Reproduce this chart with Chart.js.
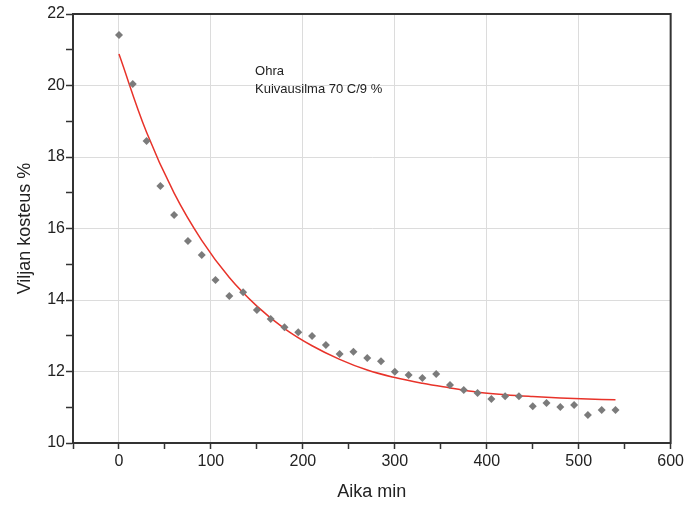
<!DOCTYPE html>
<html>
<head>
<meta charset="utf-8">
<script src="https://cdn.jsdelivr.net/npm/chart.js@4"></script>
<style>
  html, body { margin: 0; padding: 0; background: #fff; }
  #wrap { width: 687px; height: 506px; }
</style>
</head>
<body>
<div id="wrap"><canvas id="myChart"></canvas></div>
<script>
// measured points (time in min, moisture %)
var aika = [0,15,30,45,60,75,90,105,120,135,150,165,180,195,210,225,240,255,270,285,300,315,330,345,360,375,390,405,420,435,450,465,480,495,510,525,540];
var kosteus = [21.41,20.04,18.45,17.19,16.38,15.65,15.26,14.56,14.11,14.22,13.72,13.47,13.24,13.10,12.99,12.74,12.49,12.55,12.38,12.29,11.99,11.90,11.82,11.93,11.62,11.48,11.40,11.23,11.31,11.31,11.03,11.12,11.01,11.06,10.78,10.92,10.92];

// fitted curve
var sovitusAika = [0,30,60,90,120,150,180,210,240,270,300,330,360,390,420,450,480,510,540];
var sovitus = [20.88,18.69,16.99,15.67,14.63,13.83,13.20,12.72,12.34,12.04,11.83,11.67,11.54,11.42,11.35,11.30,11.26,11.23,11.21];

var xTicks = [-50,0,50,100,150,200,250,300,350,400,450,500,550,600];
var yTicks = [10,11,12,13,14,15,16,17,18,19,20,21,22];
var note = ["Ohra", "Kuivausilma 70 C/9 %"];

var pisteet = aika.map(function (t, i) { return { x: t, y: kosteus[i] }; });
var kayra = sovitusAika.map(function (t, i) { return { x: t, y: sovitus[i] }; });

var fontti = '"Liberation Sans", Arial, sans-serif';

// frame round the plot + the text box
var frame = {
  id: 'frame',
  afterDraw: function (chart) {
    var a = chart.chartArea, c = chart.ctx;
    c.save();
    c.strokeStyle = '#333';
    c.lineWidth = 2;
    c.strokeRect(a.left, a.top, a.right - a.left, a.bottom - a.top);
    var x = chart.scales.x.getPixelForValue(148);
    var y = chart.scales.y.getPixelForValue(20.38);
    c.fillStyle = '#222';
    c.font = '13px ' + fontti;
    c.textBaseline = 'middle';
    c.fillText(note[0], x, y);
    c.fillText(note[1], x, y + 18);
    c.restore();
  }
};

var ctx = document.getElementById("myChart");
var myChart = new Chart(ctx, {
  type: 'scatter',
  data: {
    datasets: [
      {
        data: pisteet,
        pointStyle: 'rectRot',
        pointRadius: 4,
        backgroundColor: '#7b7b7b',
        borderColor: '#7b7b7b',
        borderWidth: 0
      },
      {
        data: kayra,
        showLine: true,
        pointRadius: 0,
        borderColor: '#e8332a',
        borderWidth: 1.5,
        tension: 0.4,
        fill: false
      }
    ]
  },
  options: {
    responsive: true,
    maintainAspectRatio: false,
    animation: false,
    layout: { padding: { top: 14, right: 15, left: 0, bottom: 0 } },
    plugins: { legend: { display: false }, tooltip: { enabled: false } },
    scales: {
      x: {
        type: 'linear',
        min: -50, max: 600,
        afterBuildTicks: function (s) { s.ticks = xTicks.map(function (v) { return { value: v }; }); },
        afterFit: function (s) { s.height = 63; },
        border: { display: true, color: '#333', width: 2 },
        grid: {
          color: function (c) { return c.tick && c.tick.value % 100 === 0 ? '#dcdcdc' : 'rgba(0,0,0,0)'; },
          tickColor: '#333',
          tickLength: 6,
          tickWidth: 1.5
        },
        ticks: {
          autoSkip: false,
          maxRotation: 0,
          padding: 3,
          color: '#222',
          font: { size: 16, family: fontti },
          callback: function (v) { return (v % 100 === 0 && v >= 0) ? v : ''; }
        },
        title: {
          display: true,
          text: 'Aika min',
          color: '#222',
          font: { size: 18, family: fontti },
          padding: { top: 4, bottom: 3 }
        }
      },
      y: {
        type: 'linear',
        min: 10, max: 22,
        afterBuildTicks: function (s) { s.ticks = yTicks.map(function (v) { return { value: v }; }); },
        afterFit: function (s) { s.width = 73; },
        border: { display: true, color: '#333', width: 2 },
        grid: {
          color: function (c) { return c.tick && c.tick.value % 2 === 0 ? '#dcdcdc' : 'rgba(0,0,0,0)'; },
          tickColor: '#333',
          tickLength: 7,
          tickWidth: 1.5
        },
        ticks: {
          autoSkip: false,
          padding: 1,
          color: '#222',
          font: { size: 16, family: fontti },
          callback: function (v) { return v % 2 === 0 ? v : ''; }
        },
        title: {
          display: true,
          text: 'Viljan kosteus %',
          color: '#222',
          font: { size: 18, family: fontti },
          padding: { top: 14, bottom: 4 }
        }
      }
    }
  },
  plugins: [frame]
});
</script>
</body>
</html>
